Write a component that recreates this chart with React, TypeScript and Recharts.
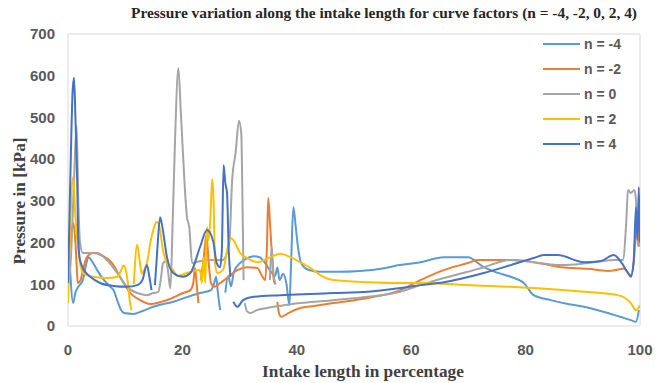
import React from 'react';
import { LineChart, Line, XAxis, YAxis, CartesianGrid, Legend } from 'recharts';

type Pt = [number, number | null];

const seriesNames = ['n = -4', 'n = -2', 'n = 0', 'n = 2', 'n = 4'];
const seriesColors = ['#5B9BD5', '#ED7D31', '#A5A5A5', '#FFC000', '#4472C4'];
const xTicks = [0, 20, 40, 60, 80, 100];
const yTicks = [0, 100, 200, 300, 400, 500, 600, 700];

const nNeg4: Pt[] = [
  [0.3, 153], [0.9, 55], [1.3, 80], [1.8, 94], [2.6, 110], [3.2, 150], [3.6, 165], [4.2, 155], [5.1, 134],
  [6.3, 110], [7.4, 94], [8.0, 85], [8.6, 62], [9.2, 40], [9.8, 31], [11.4, 29], [13, 36], [14.9, 46],
  [16.5, 52], [18.4, 58], [20.5, 68], [23.1, 79], [25, 86], [25.5, 100], [25.9, 118], [26.2, 80], [26.6, 38],
  [27, null],
  [27.5, 80], [28.0, 120], [28.5, 95], [29.0, 130], [30.0, 150], [31.0, 160], [32.5, 167], [33.5, 165],
  [34.5, 150], [35.5, 130], [36.2, 120], [36.6, 140], [37.0, 110], [37.6, 125], [38.2, 100], [38.7, 50],
  [39.0, 150], [39.4, 285], [39.8, 240], [40.2, 190], [40.8, 150], [42, 135], [44, 130], [47, 130],
  [51, 132], [55, 138], [58, 146], [61.6, 153], [65.7, 165], [69.9, 165], [72.7, 141], [75, 128],
  [77.4, 118], [79.7, 103], [81.4, 74], [84.4, 62], [87, 54], [90.2, 46], [92, 40], [94.4, 31],
  [96.5, 22], [98.4, 14], [99.3, 10], [99.8, 38],
];

const nNeg2: Pt[] = [
  [0.2, 182], [0.6, 225], [0.9, 247], [1.2, 220], [1.5, 150], [1.7, 103], [2.2, 110], [2.6, 134], [3.3, 165],
  [4.4, 175], [6.1, 168], [7.7, 151], [9.1, 118], [10.9, 79], [12.6, 62], [14.4, 53], [17.3, 62], [20.1, 79],
  [21.4, 86], [21.9, 103], [22.2, 139], [22.5, 100], [22.8, 55],
  [23, null],
  [23.2, 110], [23.7, 160], [24.2, 218], [24.6, 150], [25.0, 103], [25.6, 94], [26.6, 103], [27.8, 115],
  [29.6, 134], [31.3, 141], [33.1, 139], [34.0, 118], [34.5, 110], [34.8, 200], [35.0, 307], [35.3, 250],
  [35.6, 182], [35.9, 118], [36.2, 100],
  [36.4, null],
  [36.6, 58], [36.9, 30], [37.3, 22], [38.5, 31], [40.6, 43], [43, 48], [46.4, 55], [52.4, 67], [58.1, 86],
  [61.6, 110], [65.7, 134], [69.9, 151], [71.6, 158], [77.4, 158], [81.4, 153], [86.2, 141], [90.9, 137],
  [94.4, 132], [97.2, 137], [98.4, 122], [98.9, 150], [99.3, 230], [99.6, 240], [99.8, 190],
];

const nZero: Pt[] = [
  [0, 95], [0.5, 160], [1.0, 330], [1.5, 480], [1.8, 300], [2.1, 200], [2.6, 175], [3.3, 175], [5.1, 175],
  [6.8, 158], [8.6, 127], [10.3, 94], [12.1, 79], [13.8, 74], [14.9, 79], [15.8, 82], [16.3, 120], [16.6, 150],
  [17.0, 155], [17.4, 140], [17.9, 90], [18.3, 250], [18.7, 440], [19.3, 618], [19.7, 520], [20.0, 440],
  [20.8, 261], [21.2, 237], [21.7, 151], [23, 155], [25, 158], [27, 158], [28.2, 200], [28.7, 350],
  [29.3, 415], [29.9, 492], [30.3, 460], [30.5, 300], [30.7, 110],
  [30.8, null],
  [35.3, 110], [35.6, 190], [35.9, 130], [36.3, 100],
  [33, null],
  [30.9, 55], [31.3, 35], [31.9, 31], [33, 38], [34.8, 43], [37, 48], [40.6, 55], [46.4, 62], [52.4, 70],
  [58.1, 82], [61.6, 98], [65.7, 115], [69.9, 130], [72.7, 141], [77.4, 158], [81.4, 153], [86.2, 146],
  [90.9, 151], [95.4, 158], [97, 158], [97.6, 250], [97.9, 326], [98.4, 319], [99, 326], [99.3, 302],
  [99.6, 200], [99.8, 190],
];

const nTwo: Pt[] = [
  [0, 55], [0.3, 200], [0.9, 357], [1.3, 261], [1.8, 182], [2.6, 127], [4.4, 118], [6.8, 115], [8.6, 118],
  [9.3, 134], [9.7, 145], [10.1, 134], [10.5, 100], [10.8, 60], [11.1, 38],
  [11.3, null],
  [11.5, 100], [12.1, 195], [12.5, 160], [12.9, 125], [13.3, 134], [13.8, 151], [14.4, 200], [14.9, 230],
  [15.5, 250], [16, 237], [16.6, 182], [17.3, 151], [18.4, 134], [19.1, 120], [20.8, 127], [23.1, 134],
  [23.4, 103], [23.7, 165], [24.0, 103], [24.3, 237], [24.6, 206], [24.9, 261], [25.2, 352], [25.45, 302],
  [25.7, 151], [26.1, 127], [27.1, 134], [27.8, 180], [28.4, 211], [28.9, 206], [30.1, 175], [31.3, 163],
  [33.1, 153], [35.4, 165], [37.1, 173], [38.9, 165], [40.6, 153], [42.4, 139], [44.1, 122], [46.4, 110],
  [52.4, 105], [58.1, 103], [61.6, 103], [69.9, 98], [81.4, 91], [90.2, 82], [96.1, 74], [98.4, 55],
  [99.3, 38], [100, 50],
];

const nFour: Pt[] = [
  [0, 103], [0.4, 350], [0.8, 560], [1.05, 595], [1.3, 500], [1.6, 350], [1.8, 206], [2.1, 158], [3.0, 130],
  [3.9, 118], [5.6, 103], [7.9, 96], [10.3, 94], [12.1, 98], [13, 110], [13.8, 146], [14.2, 120], [14.6, 86],
  [14.9, null],
  [15.2, 98], [15.6, 180], [16.1, 261], [16.5, 237], [17.3, 165], [18.4, 127], [20.1, 118], [21.4, 127],
  [23.1, 190], [24.3, 230], [25.4, 202], [26.0, 151], [26.6, 141], [26.9, 182], [27.2, 386], [27.5, 343],
  [27.8, 319], [28.1, 182], [28.4, 118],
  [28.6, null],
  [28.9, 58], [29.6, 46], [30.6, 62], [32.4, 70], [37.1, 74], [42.4, 77], [46.4, 79], [52.4, 82], [58.1, 91],
  [61.6, 98], [65.7, 105], [72.7, 127], [77.4, 146], [81.4, 163], [83.2, 170], [85.6, 170], [90.2, 153],
  [93.2, 156], [95.4, 170], [96.7, 153], [97.9, 127], [98.4, 118], [98.9, 158], [99.3, 285], [99.55, 206],
  [99.8, 333], [100, 200],
];

const allSeries = [nNeg4, nNeg2, nZero, nTwo, nFour];

const toRows = (pts: Pt[]) => pts.map(([x, y]) => ({ x, y }));

const axisFont = { fontFamily: '"Liberation Sans", Arial, sans-serif', fontWeight: 700, fontSize: 15, fill: '#595959' };
const serifTitle = '"Liberation Serif", "Times New Roman", serif';

const LegendBox = () => (
  <div style={{ width: 110 }}>
    {seriesNames.map((name, i) => (
      <div key={name} style={{ display: 'flex', alignItems: 'center', height: 25 }}>
        <svg width={42} height={10} style={{ display: 'block' }}>
          <line x1={2} y1={5} x2={39} y2={5} stroke={seriesColors[i]} strokeWidth={2} />
        </svg>
        <span style={{ fontFamily: axisFont.fontFamily, fontWeight: 700, fontSize: 14, color: '#595959', marginLeft: 1 }}>{name}</span>
      </div>
    ))}
  </div>
);

export default function App() {
  return (
    <div style={{ position: 'absolute', left: 0, top: 0, width: 660, height: 383, background: '#fff' }}>
      <div
        style={{
          position: 'absolute', left: 384, top: 3, transform: 'translateX(-50%)', whiteSpace: 'nowrap',
          fontFamily: serifTitle, fontWeight: 700, fontSize: 15.4, lineHeight: '20px', color: '#262626', zIndex: 2,
        }}
      >
        Pressure variation along the intake length for curve factors (n = -4, -2, 0, 2, 4)
      </div>
      <LineChart width={660} height={383} margin={{ top: 34, right: 20, bottom: 0, left: 0 }}>
        <CartesianGrid horizontalValues={[0, 700]} verticalValues={[0, 100]} stroke="#d9d9d9" strokeWidth={1} />
        <XAxis
          dataKey="x"
          type="number"
          domain={[0, 100]}
          ticks={xTicks}
          allowDataOverflow
          height={57}
          axisLine={false}
          tickLine={false}
          tickSize={0}
          tickMargin={18}
          tick={axisFont}
          label={{
            content: () => (
              <text x={363} y={377} textAnchor="middle" fontFamily={serifTitle} fontWeight={700} fontSize={17.3} fill="#404040">
                Intake length in percentage
              </text>
            ),
          }}
        />
        <YAxis
          type="number"
          domain={[0, 700]}
          ticks={yTicks}
          width={68}
          axisLine={false}
          tickLine={false}
          tickSize={0}
          tickMargin={13}
          tick={axisFont}
          label={{
            content: () => (
              <text transform="translate(19,201) rotate(-90)" textAnchor="middle" dominantBaseline="central" fontFamily={serifTitle} fontWeight={700} fontSize={17.3} fill="#404040">
                Pressure in [kPa]
              </text>
            ),
          }}
        />
        <Legend
          layout="vertical"
          align="center"
          verticalAlign="middle"
          content={() => <LegendBox />}
          wrapperStyle={{ position: 'absolute', left: 541, top: 31, width: 110, height: 130 }}
        />
        {allSeries.map((s, i) => (
          <Line
            key={seriesNames[i]}
            data={toRows(s)}
            dataKey="y"
            name={seriesNames[i]}
            stroke={seriesColors[i]}
            strokeWidth={2}
            dot={false}
            activeDot={false}
            type="monotone"
            connectNulls={false}
            isAnimationActive={false}
          />
        ))}
      </LineChart>
    </div>
  );
}
